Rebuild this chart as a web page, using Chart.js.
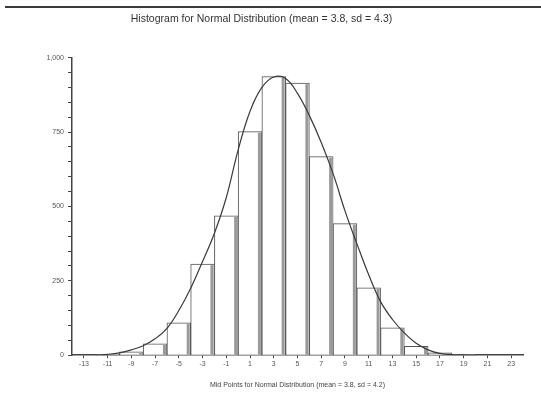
<!DOCTYPE html>
<html>
<head>
<meta charset="utf-8">
<script src="https://cdn.jsdelivr.net/npm/chart.js@4.4.1/dist/chart.umd.min.js"></script>
<style>
    html, body { margin: 0; padding: 0; background: #fff; }
    #wrap { position: relative; width: 541px; height: 394px; }
    #topRule { position: absolute; left: 5px; top: 6px; width: 536px; height: 2px; background: #3a3a3a; }
    canvas { position: absolute; left: 0; top: 0; }
</style>
</head>
<body>
<div id="wrap">
    <canvas id="histChart" width="541" height="394"></canvas>
    <div id="topRule"></div>
</div>
<script>
// bin mid points and counts
const midPoints = ['-13', '-11', '-9', '-7', '-5', '-3', '-1', '1', '3', '5', '7', '9', '11', '13', '15', '17', '19', '21', '23'];
const counts = [0, 3, 11, 38, 109, 306, 468, 751, 936, 914, 667, 442, 226, 92, 30, 8, 2, 0, 0];

// fitted normal curve, read at whole units
const curveX = [-12, -11, -10, -9, -8, -7, -6, -5, -4, -3, -2, -1, 0, 1, 2, 3, 4, 5, 6, 7, 8, 9, 10, 11, 12, 13, 14, 15, 16, 17, 18, 19, 20];
const curveY = [1, 3, 8, 18, 32, 55, 90, 150, 225, 315, 410, 530, 690, 820, 900, 935, 930, 880, 805, 715, 610, 485, 375, 270, 180, 120, 75, 40, 18, 6, 2, 1, 0];

const yTicks = [0, 250, 500, 750, 1000];

const FONT = "'Liberation Sans', Arial, sans-serif";
const INK = '#444';

// grey strip on the right inside of every bar
const barShade = {
    id: 'barShade',
    afterDatasetDraw(chart, args) {
        if (args.index !== 0) return;
        const ctx = chart.ctx;
        ctx.save();
        ctx.fillStyle = '#9a9a9a';
        args.meta.data.forEach(bar => {
            const h = bar.base - bar.y;
            if (h < 2) return;
            const right = bar.x + bar.width / 2;
            ctx.fillRect(right - 4, bar.y + 1, 3, h - 1);
        });
        ctx.restore();
    }
};

const ctx = document.getElementById('histChart').getContext('2d');
new Chart(ctx, {
    data: {
        labels: midPoints,
        datasets: [
            {
                type: 'bar',
                data: counts,
                backgroundColor: '#ffffff',
                borderColor: '#555',
                borderWidth: { top: 1, left: 1, right: 1, bottom: 0 },
                borderSkipped: false,
                grouped: false,
                categoryPercentage: 1,
                barPercentage: 1,
                order: 1
            },
            {
                type: 'line',
                xAxisID: 'xc',
                data: curveX.map((x, i) => ({ x: x, y: curveY[i] })),
                borderColor: '#3a3a3a',
                borderWidth: 1.2,
                pointRadius: 0,
                tension: 0.4,
                fill: false,
                order: 0
            }
        ]
    },
    options: {
        responsive: false,
        animation: false,
        layout: { padding: { top: 11, right: 18, left: 0, bottom: 5 } },
        plugins: {
            legend: { display: false },
            tooltip: { enabled: false },
            title: {
                display: true,
                text: 'Histogram for Normal Distribution (mean = 3.8, sd = 4.3)',
                color: '#333',
                font: { family: FONT, size: 10.5, weight: 'normal' },
                padding: { top: 2, bottom: 32 }
            }
        },
        scales: {
            x: {
                type: 'category',
                offset: true,
                grid: { display: true, drawOnChartArea: false, offset: false, tickLength: 3, color: INK },
                border: { color: INK, width: 1.5 },
                ticks: { color: '#555', font: { family: FONT, size: 7 }, maxRotation: 0, autoSkip: false, padding: 2 },
                title: {
                    display: true,
                    text: 'Mid Points for Normal Distribution (mean = 3.8, sd = 4.2)',
                    color: '#444',
                    font: { family: FONT, size: 7 },
                    padding: { top: 10, bottom: 0 }
                }
            },
            xc: {
                type: 'linear',
                display: false,
                min: -14,
                max: 24
            },
            y: {
                min: 0,
                max: 1000,
                afterFit(scale) { scale.width = 72; },
                grid: { display: true, drawOnChartArea: false, tickLength: 4, color: INK },
                border: { color: INK, width: 1.5 },
                ticks: {
                    stepSize: 50,
                    autoSkip: false,
                    color: '#555',
                    font: { family: FONT, size: 7 },
                    padding: 4,
                    callback: v => yTicks.includes(v) ? v.toLocaleString('en-US') : ''
                }
            }
        }
    },
    plugins: [barShade]
});
</script>
</body>
</html>
